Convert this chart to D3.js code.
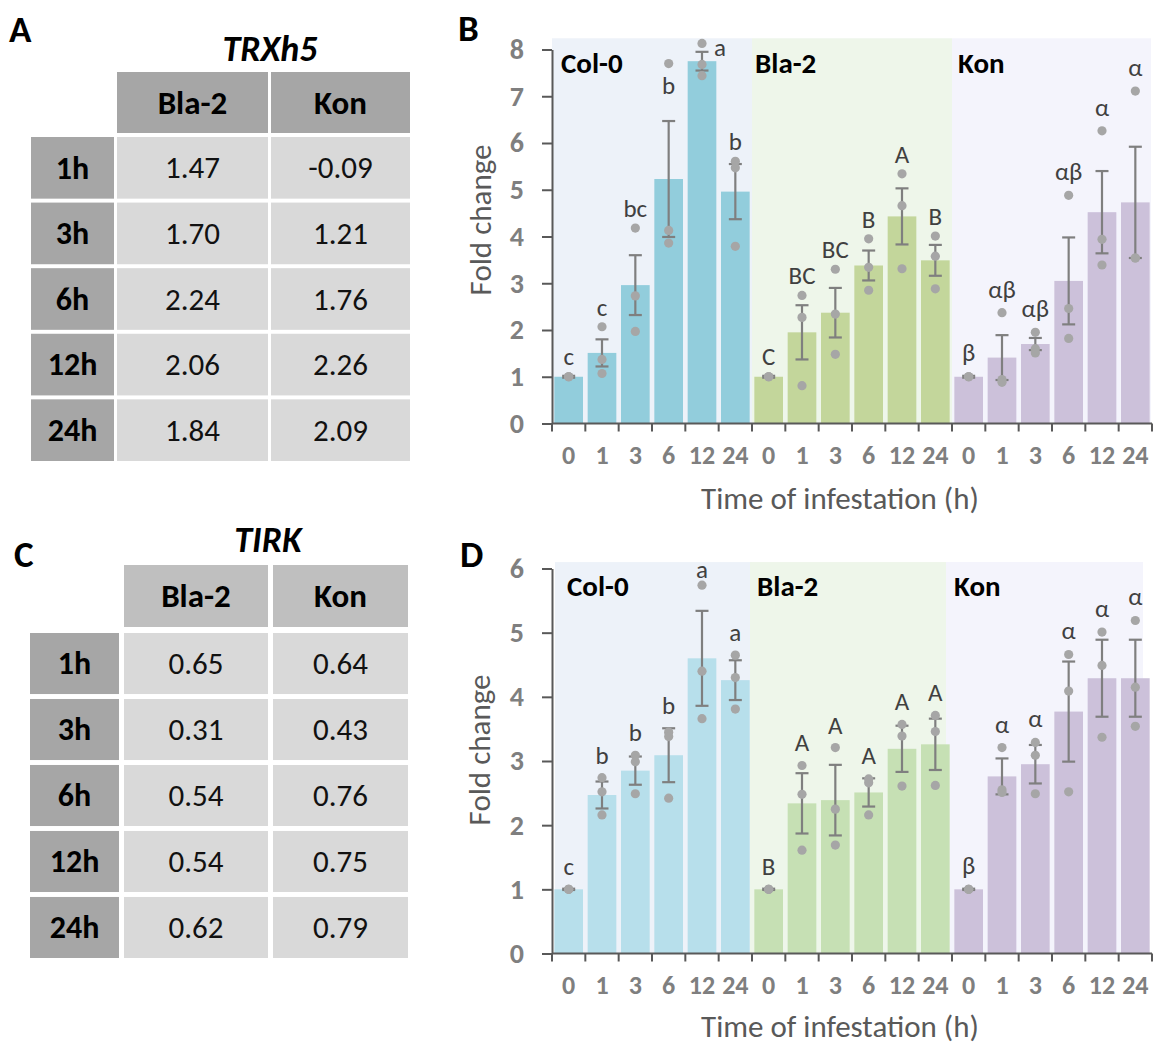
<!DOCTYPE html>
<html><head><meta charset="utf-8">
<script src="https://cdn.jsdelivr.net/npm/d3@7"></script>
<style>body{margin:0;background:#fff}svg{display:block}</style>
</head><body>
<svg id="c" width="1155" height="1044"></svg>
<script>
// ---------- DATA ----------
const lines = ["Col-0", "Bla-2", "Kon"];
const times = ["0", "1", "3", "6", "12", "24"];
const tableRows = ["1h", "3h", "6h", "12h", "24h"];
const tableCols = ["Bla-2", "Kon"];
const trxh5Table = [[1.47, -0.09], [1.70, 1.21], [2.24, 1.76], [2.06, 2.26], [1.84, 2.09]];
const tirkTable = [[0.65, 0.64], [0.31, 0.43], [0.54, 0.76], [0.54, 0.75], [0.62, 0.79]];

const yTicksB = [0, 1, 2, 3, 4, 5, 6, 7, 8];
const yTicksD = [0, 1, 2, 3, 4, 5, 6];

// Panel B (TRXh5) — means, standard errors, replicate points, letters
const trxMean = [1.00, 1.51, 2.96, 5.23, 7.75, 4.96,
                 1.00, 1.95, 2.37, 3.38, 4.43, 3.49,
                 1.00, 1.41, 1.70, 3.05, 4.52, 4.73];
const trxSE = [0.02, 0.29, 0.64, 1.24, 0.20, 0.59,
               0.02, 0.58, 0.53, 0.32, 0.60, 0.33,
               0.02, 0.48, 0.13, 0.93, 0.88, 1.19];
const trxPts = [[1, 1, 1], [2.07, 1.37, 1.07], [4.18, 2.73, 1.97], [7.70, 4.13, 3.86], [8.13, 7.68, 7.44], [5.61, 5.47, 3.79],
                [1, 1, 1], [2.74, 2.27, 0.81], [3.30, 2.34, 1.48], [3.95, 3.34, 2.85], [5.34, 4.66, 3.31], [4.01, 3.58, 2.88],
                [1, 1, 1], [2.37, 0.94, 0.88], [1.95, 1.60, 1.51], [4.88, 2.46, 1.82], [6.26, 3.94, 3.39], [7.11, 3.54, 3.54]];
const trxLetters = ["c", "c", "bc", "b", "a", "b",
                    "C", "BC", "BC", "B", "A", "B",
                    "β", "αβ", "αβ", "αβ", "α", "α"];

// Panel D (TIRK)
const tirkMean = [1.00, 2.47, 2.85, 3.09, 4.60, 4.26,
                  1.00, 2.34, 2.39, 2.51, 3.19, 3.26,
                  1.00, 2.76, 2.95, 3.77, 4.29, 4.29];
const tirkSE = [0.01, 0.21, 0.22, 0.42, 0.74, 0.31,
                0.01, 0.47, 0.55, 0.22, 0.36, 0.40,
                0.01, 0.28, 0.30, 0.78, 0.60, 0.60];
const tirkPts = [[1, 1, 1], [2.74, 2.52, 2.16], [3.09, 2.99, 2.49], [3.45, 3.38, 2.42], [5.74, 4.40, 3.66], [4.65, 4.30, 3.81],
                 [1, 1, 1], [2.93, 2.48, 1.61], [3.21, 2.25, 1.69], [2.72, 2.66, 2.16], [3.57, 3.39, 2.61], [3.71, 3.46, 2.62],
                 [1, 1, 1], [3.21, 2.55, 2.51], [3.29, 3.09, 2.49], [4.66, 4.09, 2.52], [5.01, 4.49, 3.37], [5.19, 4.15, 3.54]];
const tirkLetters = ["c", "b", "b", "b", "a", "a",
                     "B", "A", "A", "A", "A", "A",
                     "β", "α", "α", "α", "α", "α"];

// ---------- DRAWING ----------
const FONT = "Carlito, Lato, 'Open Sans', sans-serif";
const svg = d3.select("#c").style("font-family", FONT);
svg.append("rect").attr("width", 1155).attr("height", 1044).attr("fill", "#fff");

function panelLetter(t, x, y) {
  svg.append("text").attr("x", x).attr("y", y).text(t)
    .attr("font-size", 37).attr("font-weight", 700).attr("fill", "#000");
}

function drawTable(cfg) {
  const g = svg.append("g");
  const colX = d3.scaleOrdinal().domain(tableCols).range(cfg.colX);
  g.append("text").attr("x", cfg.titleX).attr("y", cfg.titleY).attr("text-anchor", "middle")
    .attr("font-size", 36).attr("font-weight", 700).attr("font-style", "italic").text(cfg.title);
  tableCols.forEach((c, j) => {
    g.append("rect").attr("x", colX(c)).attr("y", cfg.headY).attr("width", cfg.colW[j]).attr("height", cfg.headH)
      .attr("fill", cfg.headFill);
    g.append("text").attr("x", colX(c) + cfg.colW[j] / 2).attr("y", cfg.headY + cfg.headH / 2).attr("dy", "0.34em")
      .attr("text-anchor", "middle").attr("font-size", 33).attr("font-weight", 700).text(c);
  });
  const rowY = d3.scaleBand().domain(tableRows).range([cfg.rowY0, cfg.rowY0 + cfg.rowPitch * tableRows.length]).paddingInner(cfg.rowGap);
  tableRows.forEach((r, i) => {
    g.append("rect").attr("x", cfg.rhX).attr("y", rowY(r)).attr("width", cfg.rhW).attr("height", rowY.bandwidth())
      .attr("fill", "#a6a6a6");
    g.append("text").attr("x", cfg.rhX + cfg.rhW / 2).attr("y", rowY(r) + rowY.bandwidth() / 2).attr("dy", "0.34em")
      .attr("text-anchor", "middle").attr("font-size", 32).attr("font-weight", 700).text(r);
    tableCols.forEach((c, j) => {
      g.append("rect").attr("x", colX(c)).attr("y", rowY(r)).attr("width", cfg.colW[j]).attr("height", rowY.bandwidth())
        .attr("fill", "#d9d9d9");
      g.append("text").attr("x", colX(c) + cfg.colW[j] / 2).attr("y", rowY(r) + rowY.bandwidth() / 2).attr("dy", "0.34em")
        .attr("text-anchor", "middle").attr("font-size", 31).attr("fill", "#111").text(cfg.data[i][j].toFixed(2));
    });
  });
}

function drawChart(cfg) {
  const g = svg.append("g");
  const n = lines.length * times.length;
  const x = d3.scaleBand().domain(d3.range(n)).range([552, 1152]).paddingInner(0.14).paddingOuter(0.07);
  const y = d3.scaleLinear().domain([0, cfg.yMax]).range([cfg.y0, cfg.yTop]);
  const step = x.step();
  const x0 = x.range()[0];

  lines.forEach((ln, i) => {
    g.append("rect").attr("x", x0 + i * 6 * step + cfg.bandInset[i][0]).attr("y", y(cfg.bandTop))
      .attr("width", 6 * step - cfg.bandInset[i][0] + cfg.bandInset[i][1]).attr("height", y(0) - y(cfg.bandTop))
      .attr("fill", cfg.bandColors[i]);
  });

  g.selectAll("rect.bar").data(cfg.mean).join("rect").attr("class", "bar")
    .attr("x", (d, i) => x(i)).attr("y", d => y(d)).attr("width", x.bandwidth())
    .attr("height", d => y(0) - y(d))
    .attr("fill", (d, i) => cfg.barColors[Math.floor(i / 6)]);

  const eb = g.append("g").attr("stroke", "#7f7f7f").attr("stroke-width", 2.2);
  cfg.mean.forEach((m, i) => {
    const cx = x(i) + x.bandwidth() / 2;
    const lo = y(m - cfg.se[i]), hi = y(m + cfg.se[i]);
    eb.append("line").attr("x1", cx).attr("x2", cx).attr("y1", lo).attr("y2", hi);
    eb.append("line").attr("x1", cx - 6.5).attr("x2", cx + 6.5).attr("y1", lo).attr("y2", lo);
    eb.append("line").attr("x1", cx - 6.5).attr("x2", cx + 6.5).attr("y1", hi).attr("y2", hi);
  });

  cfg.pts.forEach((arr, i) => {
    const cx = x(i) + x.bandwidth() / 2;
    g.selectAll(null).data(arr).join("circle").attr("cx", cx).attr("cy", d => y(d)).attr("r", 4.6)
      .attr("fill", "#a6a6a6");
  });

  cfg.letters.forEach((t, i) => {
    const cx = x(i) + x.bandwidth() / 2;
    const topVal = Math.max(d3.max(cfg.pts[i]), cfg.mean[i] + cfg.se[i]);
    let yy = y(topVal) - cfg.letterOff[Math.floor(i / 6)];
    let xx = cx;
    const nud = cfg.nudge[i];
    if (nud) { if (nud.mid) yy = (y(d3.max(cfg.pts[i])) + y(cfg.mean[i] + cfg.se[i])) / 2 + 2; if (nud.dx) xx += nud.dx; if (nud.dy) yy += nud.dy; }
    yy = Math.max(yy, cfg.letterMin);
    g.append("text").attr("x", xx).attr("y", yy).attr("text-anchor", "middle")
      .attr("font-size", 25).attr("fill", "#404040").text(t);
  });

  lines.forEach((ln, i) => {
    g.append("text").attr("x", cfg.groupX[i]).attr("y", cfg.groupY).text(ln)
      .attr("font-size", 29).attr("font-weight", 700).attr("fill", "#000");
  });

  const ya = g.append("g").attr("transform", "translate(552,0)")
    .call(d3.axisLeft(y).tickValues(cfg.yTicks).tickFormat(d3.format("d")).tickSize(10).tickSizeOuter(0).tickPadding(18));
  ya.select(".domain").attr("stroke", "#595959").attr("stroke-width", 2);
  ya.selectAll(".tick line").attr("stroke", "#595959").attr("stroke-width", 2);
  ya.selectAll(".tick text").attr("font-family", FONT).attr("font-size", 28).attr("font-weight", 700).attr("fill", "#7f7f7f");

  const xa = g.append("g").attr("transform", `translate(0,${y(0)})`)
    .call(d3.axisBottom(x).tickFormat(i => times[i % 6]).tickSize(0).tickPadding(22).tickSizeOuter(0));
  xa.select(".domain").attr("stroke", "#595959").attr("stroke-width", 2).attr("d", `M552,0H1152`);
  xa.selectAll(".tick text").attr("font-family", FONT).attr("font-size", 26).attr("font-weight", 700).attr("fill", "#7f7f7f");
  xa.selectAll("line.bnd").data(d3.range(n + 1)).join("line").attr("class", "bnd")
    .attr("x1", d => x0 + d * step).attr("x2", d => x0 + d * step).attr("y1", 0).attr("y2", 8)
    .attr("stroke", "#595959").attr("stroke-width", 2);

  g.append("text").attr("transform", `translate(${cfg.yTitleX},${cfg.yTitleY}) rotate(-90)`).attr("text-anchor", "middle")
    .attr("dy", "0.35em").attr("font-size", 31).attr("fill", "#595959").text("Fold change");
  g.append("text").attr("x", 840).attr("y", cfg.xTitleY).attr("text-anchor", "middle")
    .attr("font-size", 31).attr("fill", "#595959").text("Time of infestation (h)");
}

drawTable({
  title: "TRXh5", titleX: 270, titleY: 61, data: trxh5Table,
  colX: [117, 271], colW: [151, 139], headY: 72, headH: 61, headFill: "#a6a6a6",
  rhX: 31, rhW: 83, rowY0: 137, rowPitch: 64.8, rowGap: 0.06
});
drawTable({
  title: "TIRK", titleX: 268, titleY: 552, data: tirkTable,
  colX: [124, 273], colW: [144, 135], headY: 565, headH: 62, headFill: "#bfbfbf",
  rhX: 30, rhW: 89, rowY0: 633, rowPitch: 65, rowGap: 0.075
});

drawChart({
  mean: trxMean, se: trxSE, pts: trxPts, letters: trxLetters,
  yMax: 8, y0: 423.5, yTop: 49.5, yTicks: yTicksB, bandTop: 8.24,
  bandInset: [[0, 0], [0, 0], [0, -1]],
  barColors: ["#92cddc", "#c3d69b", "#ccc1da"],
  bandColors: ["#edf2f9", "#eef6ea", "#f4f4fc"],
  letterOff: [11, 11, 15], letterMin: 0,
  nudge: { 3: { mid: true }, 4: { dx: 18, dy: 24 } },
  groupX: [561, 755, 958], groupY: 73,
  yTitleX: 480, yTitleY: 220, xTitleY: 509
});
drawChart({
  mean: tirkMean, se: tirkSE, pts: tirkPts, letters: tirkLetters,
  yMax: 6, y0: 953.5, yTop: 568.5, yTicks: yTicksD, bandTop: 6.1,
  bandInset: [[3, 0], [-2, -6], [-6, -9]],
  barColors: ["#b7dfeb", "#c6e0b4", "#ccc1da"],
  bandColors: ["#edf2f9", "#eef6ea", "#f4f4fc"],
  letterOff: [14, 14, 15], letterMin: 578,
  nudge: {},
  groupX: [567, 757, 954], groupY: 596,
  yTitleX: 479, yTitleY: 750, xTitleY: 1037
});

panelLetter("A", 9, 42);
panelLetter("B", 458, 41);
panelLetter("C", 14, 567);
panelLetter("D", 460, 567);
</script>
</body></html>
